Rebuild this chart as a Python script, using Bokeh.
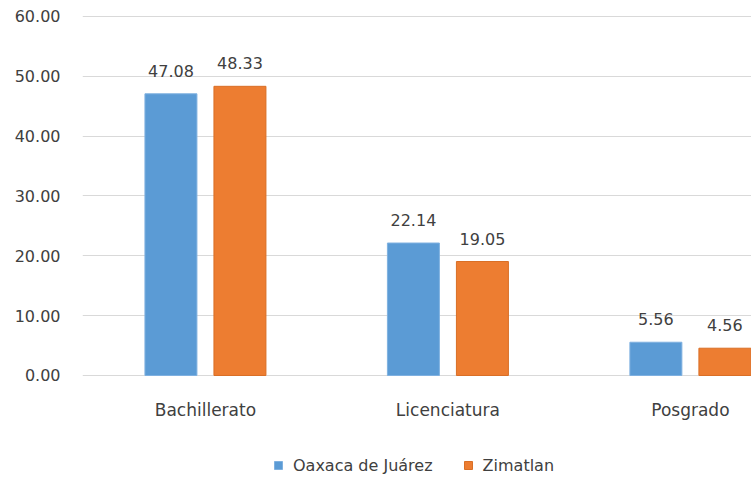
from bokeh.plotting import figure
from bokeh.models import ColumnDataSource, Range1d, FixedTicker, Legend, LegendItem
from bokeh.core.properties import value
from bokeh.embed import file_html
from bokeh.resources import INLINE

categories = ["Bachillerato", "Licenciatura", "Posgrado"]
oaxaca = [47.08, 22.14, 5.56]
zimatlan = [48.33, 19.05, 4.56]
y_ticks = [0, 10, 20, 30, 40, 50, 60]
series_names = ["Oaxaca de Juárez", "Zimatlan"]

FONT = "DejaVu Sans"
TXT = "#404040"
BLUE = "#5b9bd5"
ORANGE = "#ed7d31"

xs = list(range(len(categories)))
off = 0.1423
bw = 0.2144

src_a = ColumnDataSource(dict(x=[v - off for v in xs], top=oaxaca,
                              lbl=["%.2f" % v for v in oaxaca]))
src_b = ColumnDataSource(dict(x=[v + off for v in xs], top=zimatlan,
                              lbl=["%.2f" % v for v in zimatlan]))

p = figure(width=751, height=478, output_backend="svg", toolbar_location=None,
           x_range=Range1d(-0.507, 2.252), y_range=Range1d(-17.215, 60.167),
           min_border_left=82, min_border_right=0, min_border_top=15,
           min_border_bottom=0)
p.outline_line_color = None
p.background_fill_color = "white"

r1 = p.vbar(x="x", top="top", width=bw, source=src_a, fill_color=BLUE,
            line_color="#7fb1e0", line_width=1)
r2 = p.vbar(x="x", top="top", width=bw, source=src_b, fill_color=ORANGE,
            line_color="#d96f26", line_width=1)

for s in (src_a, src_b):
    p.text(x="x", y="top", text="lbl", source=s, text_align="center",
           text_baseline="bottom", y_offset=-17, text_font=value(FONT),
           text_font_size="16px", text_color=TXT)

p.xgrid.grid_line_color = None
p.ygrid.grid_line_color = "#d9d9d9"
p.ygrid.grid_line_width = 1
p.ygrid.ticker = FixedTicker(ticks=y_ticks)

p.yaxis.ticker = FixedTicker(ticks=y_ticks)
p.yaxis.major_label_overrides = {t: "%.2f" % t for t in y_ticks}
p.yaxis.axis_line_color = None
p.yaxis.major_tick_line_color = None
p.yaxis.minor_tick_line_color = None
p.yaxis.major_tick_out = 0
p.yaxis.major_label_standoff = 22
p.yaxis.major_label_text_font = FONT
p.yaxis.major_label_text_font_size = "16px"
p.yaxis.major_label_text_color = TXT

p.xaxis.ticker = FixedTicker(ticks=xs)
p.xaxis.fixed_location = 0
p.xaxis.major_label_overrides = {i: c for i, c in enumerate(categories)}
p.xaxis.axis_line_color = None
p.xaxis.major_tick_line_color = None
p.xaxis.minor_tick_line_color = None
p.xaxis.major_label_standoff = 19
p.xaxis.major_label_text_font = FONT
p.xaxis.major_label_text_font_size = "17px"
p.xaxis.major_label_text_color = TXT

legend = Legend(items=[LegendItem(label=series_names[0], renderers=[r1]),
                       LegendItem(label=series_names[1], renderers=[r2])],
                orientation="horizontal", location=(191, 3),
                border_line_color=None, background_fill_alpha=0,
                padding=0, margin=0, spacing=30,
                glyph_width=10, glyph_height=10, label_standoff=10,
                label_height=20, label_text_font=FONT,
                label_text_font_size="16px", label_text_color=TXT)
p.add_layout(legend, "center")

open("out.html", "w").write(file_html(p, INLINE))
